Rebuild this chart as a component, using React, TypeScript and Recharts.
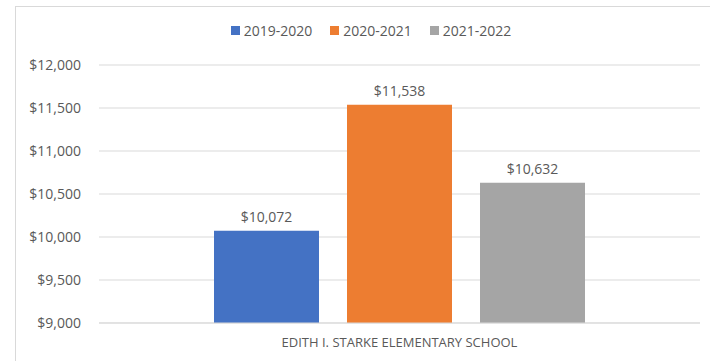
import React from "react";
import { BarChart, Bar, XAxis, YAxis, CartesianGrid, LabelList, Legend } from "recharts";

const categories = ["EDITH I. STARKE ELEMENTARY SCHOOL"];
const seriesNames = ["2019-2020", "2020-2021", "2021-2022"];
const values2019 = [10072];
const values2020 = [11538];
const values2021 = [10632];
const yTicks = [9000, 9500, 10000, 10500, 11000, 11500, 12000];

const seriesColors = ["#4472C4", "#ED7D31", "#A5A5A5"];
const seriesKeys = ["s2019", "s2020", "s2021"];

const data = categories.map((c, i) => ({
  name: c,
  s2019: values2019[i],
  s2020: values2020[i],
  s2021: values2021[i],
}));

const FONT = "'Open Sans', 'Liberation Sans', sans-serif";
const TEXT = "#595959";

const fmt = (v: number) => "$" + v.toLocaleString("en-US");

const LegendContent = () => (
  <div
    style={{
      display: "flex",
      justifyContent: "center",
      alignItems: "center",
      height: 20,
      fontFamily: FONT,
      fontSize: 14,
      color: TEXT,
      paddingLeft: 32,
    }}
  >
    {seriesNames.map((n, i) => (
      <div key={n} style={{ display: "flex", alignItems: "center", marginRight: i < 2 ? 18 : 0 }}>
        <div style={{ width: 9, height: 9, background: seriesColors[i], marginRight: 4 }} />
        <span>{n}</span>
      </div>
    ))}
  </div>
);

export default function App() {
  return (
    <div style={{ position: "fixed", left: 0, top: 0, width: 710, height: 361, overflow: "hidden", background: "#fff" }}>
      <div
        style={{
          position: "absolute",
          left: 15,
          top: 6,
          width: 720,
          height: 380,
          border: "1px solid #d9d9d9",
          boxSizing: "border-box",
        }}
      />
      <div style={{ position: "absolute", left: 0, top: 0 }}>
        <BarChart
          width={710}
          height={361}
          data={data}
          margin={{ top: 45, right: 10, bottom: 8, left: 15 }}
          barGap={28}
          barSize={105}
          style={{ fontFamily: FONT }}
        >
          <CartesianGrid vertical={false} stroke="#d9d9d9" strokeWidth={1} />
          <Legend
            verticalAlign="top"
            align="center"
            content={<LegendContent />}
            wrapperStyle={{ top: 20, left: 0, width: 710, height: 20 }}
          />
          <XAxis
            dataKey="name"
            tickLine={false}
            axisLine={{ stroke: "#d9d9d9" }}
            tickMargin={9}
            height={30}
            tick={{ fill: TEXT, fontSize: 13, fontFamily: FONT }}
          />
          <YAxis
            domain={[9000, 12000]}
            ticks={yTicks}
            tickFormatter={fmt}
            tickLine={false}
            axisLine={false}
            width={84}
            tickMargin={12}
            tick={{ fill: TEXT, fontSize: 14, fontFamily: FONT }}
          />
          {seriesKeys.map((k, i) => (
            <Bar key={k} dataKey={k} name={seriesNames[i]} fill={seriesColors[i]} isAnimationActive={false}>
              <LabelList
                dataKey={k}
                position="top"
                offset={9}
                formatter={(v: any) => fmt(Number(v))}
                style={{ fill: TEXT, fontSize: 14, fontFamily: FONT }}
              />
            </Bar>
          ))}
        </BarChart>
      </div>
    </div>
  );
}
